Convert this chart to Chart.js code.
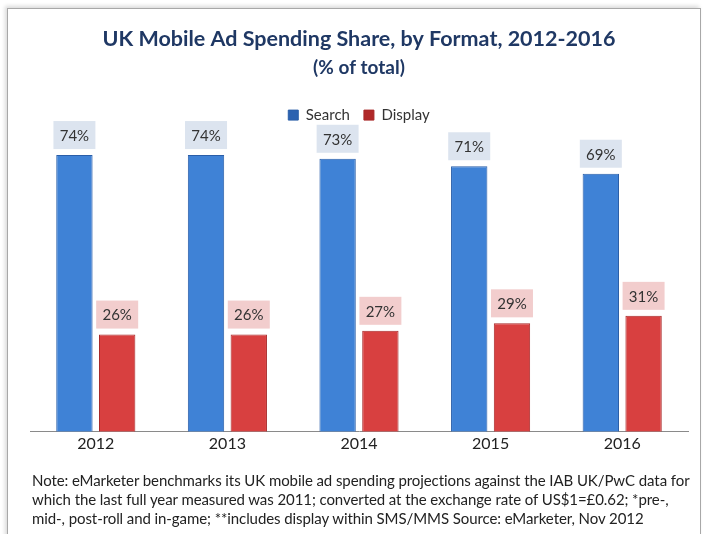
<!DOCTYPE html>
<html>
<head>
<meta charset="utf-8">
<script src="https://cdn.jsdelivr.net/npm/chart.js@4"></script>
<style>
  body { margin: 0; background: #fff; }
  #wrap { position: relative; width: 708px; height: 534px; overflow: hidden; }
  #frame { position: absolute; left: 7px; top: 8px; width: 692px; height: 540px; border: 1px solid #a8a8a8; box-shadow: -2px -2px 4px rgba(0,0,0,0.15); }
  canvas { position: absolute; left: 0; top: 0; }
  #note { position: absolute; left: 32px; top: 471px; font-family: Lato, sans-serif; font-size: 15px; line-height: 19px; color: #222; white-space: nowrap; letter-spacing: -0.08px; }
</style>
</head>
<body>
<div id="wrap">
  <div id="frame"></div>
  <canvas id="myChart" width="708" height="534"></canvas>
  <div id="note">Note: eMarketer benchmarks its UK mobile ad spending projections against the IAB UK/PwC data for<br>which the last full year measured was 2011; converted at the exchange rate of US$1=£0.62; *pre-,<br>mid-, post-roll and in-game; **includes display within SMS/MMS Source: eMarketer, Nov 2012</div>
</div>
<script>
const years = ['2012', '2013', '2014', '2015', '2016']
const searchShare = [74, 74, 73, 71, 69]
const displayShare = [26, 26, 27, 29, 31]

// horizontal shading so bars look rounded, like the original
function barShade(dark, light) {
    return (c) => {
        const bar = c.chart.getDatasetMeta(c.datasetIndex).data[c.dataIndex]
        if (!bar || !isFinite(bar.x) || !bar.width) return light
        const g = c.chart.ctx.createLinearGradient(bar.x - bar.width / 2, 0, bar.x + bar.width / 2, 0)
        g.addColorStop(0, dark)
        g.addColorStop(0.35, light)
        g.addColorStop(0.65, light)
        g.addColorStop(1, dark)
        return g
    }
}

// label boxes drawn above each bar
const valueBoxes = {
    id: 'valueBoxes',
    afterDatasetsDraw(chart) {
        const ctx = chart.ctx
        const fills = ['rgba(214,223,236,0.85)', 'rgba(240,196,196,0.85)']
        ctx.save()
        ctx.font = '15px Lato, sans-serif'
        ctx.textAlign = 'center'
        ctx.textBaseline = 'middle'
        chart.data.datasets.forEach((ds, i) => {
            chart.getDatasetMeta(i).data.forEach((bar, j) => {
                const w = 42, h = 28
                const cy = bar.y - 20
                ctx.fillStyle = fills[i]
                ctx.fillRect(bar.x - w / 2, cy - h / 2, w, h)
                ctx.fillStyle = '#333'
                ctx.fillText(ds.data[j] + '%', bar.x, cy + 1)
            })
        })
        ctx.restore()
    }
}

const ctx = document.getElementById('myChart').getContext('2d')

const myChart = new Chart(ctx, {
    type: 'bar',
    data: {
        labels: years,
        datasets: [{
            label: 'Search',
            data: searchShare,
            backgroundColor: barShade('#2c62b0', '#3f82d6'),
            borderColor: '#2a5ea8',
            borderWidth: 1
        }, {
            label: 'Display',
            data: displayShare,
            backgroundColor: barShade('#b02828', '#d84040'),
            borderColor: '#a82828',
            borderWidth: 1
        }]
    },
    options: {
        responsive: false,
        animation: false,
        layout: { padding: { top: 20, left: 30, right: 20, bottom: 79 } },
        categoryPercentage: 0.65,
        barPercentage: 0.85,
        scales: {
            x: {
                grid: { display: false, drawTicks: false },
                border: { color: '#8a8a8a', width: 1 },
                ticks: { color: '#222', font: { family: 'Lato, sans-serif', size: 16 }, padding: 2 }
            },
            y: {
                display: false,
                min: 0,
                max: 80
            }
        },
        plugins: {
            title: {
                display: true,
                text: 'UK Mobile Ad Spending Share, by Format, 2012-2016',
                color: '#1f3864',
                font: { family: 'Lato, sans-serif', size: 21.5, weight: 'bold' },
                padding: { top: 6, bottom: 3 }
            },
            subtitle: {
                display: true,
                text: '(% of total)',
                color: '#1f3864',
                font: { family: 'Lato, sans-serif', size: 19, weight: 'bold' },
                padding: { top: 2, bottom: 14 }
            },
            legend: {
                position: 'top',
                labels: {
                    color: '#333',
                    font: { family: 'Lato, sans-serif', size: 15 },
                    boxWidth: 10,
                    boxHeight: 10,
                    padding: 14
                }
            },
            tooltip: { enabled: false }
        }
    },
    plugins: [valueBoxes]
})
</script>
</body>
</html>
